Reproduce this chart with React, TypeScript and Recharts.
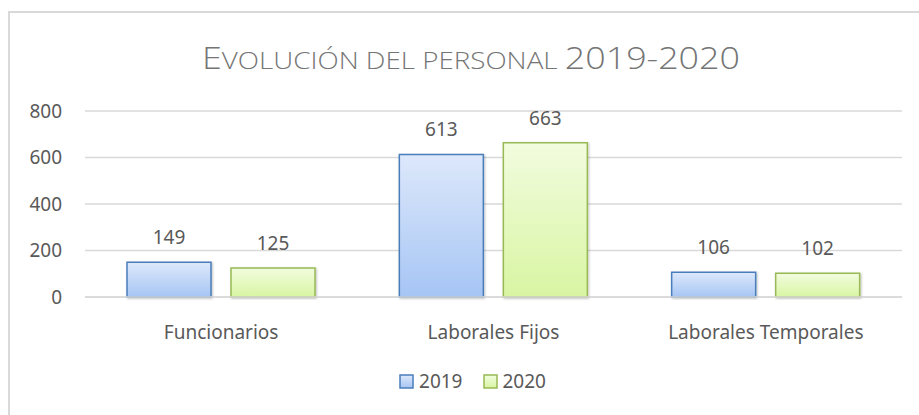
import { BarChart, Bar, XAxis, YAxis, CartesianGrid, Legend, LabelList } from "recharts";

const categories = ["Funcionarios", "Laborales Fijos", "Laborales Temporales"];
const values2019 = [149, 613, 106];
const values2020 = [125, 663, 102];
const yTicks = [0, 200, 400, 600, 800];

const data = categories.map((name, i) => ({ name, y2019: values2019[i], y2020: values2020[i] }));

const FONT = "'Noto Sans', 'Open Sans', sans-serif";
const TEXT = "#595959";

const legendItems = [
    { label: "2019", fill: "url(#gBlue)", stroke: "#4a7ebb" },
    { label: "2020", fill: "url(#gGreen)", stroke: "#98b954" },
];

function LegendContent() {
    return (
        <div style={{ display: "flex", justifyContent: "center", gap: 20, fontFamily: FONT, fontSize: 19, color: TEXT, height: 24, lineHeight: "24px" }}>
            {legendItems.map((it) => (
                <div key={it.label} style={{ display: "flex", alignItems: "center", gap: 5 }}>
                    <svg width={15} height={15}>
                        <rect x={1} y={1} width={13} height={13} fill={it.fill} stroke={it.stroke} strokeWidth={1.5} />
                    </svg>
                    <span>{it.label}</span>
                </div>
            ))}
        </div>
    );
}

export default function App() {
    return (
        <div style={{ position: "absolute", left: 0, top: 0, width: 919, height: 415, background: "#fff", overflow: "hidden" }}>
            <div style={{ position: "absolute", left: 8, top: 11, width: 930, height: 430, border: "2px solid #d9d9d9" }} />
            <svg style={{ position: "absolute", left: 0, top: 0 }} width={919} height={100}>
                <text x={471} y={69} textAnchor="middle" fill="#757575" fontFamily="'Open Sans', 'Noto Sans', sans-serif"
                    fontWeight={300} textLength={538} lengthAdjust="spacingAndGlyphs">
                    <tspan fontSize={31}>E</tspan>
                    <tspan fontSize={24}>VOLUCIÓN DEL PERSONAL </tspan>
                    <tspan fontSize={31}>2019-2020</tspan>
                </text>
            </svg>
            <div style={{ position: "absolute", left: 0, top: 0 }}>
                <BarChart width={919} height={415} data={data}
                    margin={{ top: 111, right: 17, left: 0, bottom: 64 }}
                    barCategoryGap={42} barGap={20}>
                    <defs>
                        <linearGradient id="gBlue" x1="0" y1="0" x2="0" y2="1">
                            <stop offset="0%" stopColor="#dde8fb" />
                            <stop offset="100%" stopColor="#a6c5f4" />
                        </linearGradient>
                        <linearGradient id="gGreen" x1="0" y1="0" x2="0" y2="1">
                            <stop offset="0%" stopColor="#f2fcdf" />
                            <stop offset="100%" stopColor="#d8f5a2" />
                        </linearGradient>
                        <filter id="shadow" x="-10%" y="-10%" width="120%" height="120%">
                            <feDropShadow dx="1" dy="1" stdDeviation="1.2" floodColor="#000" floodOpacity="0.25" />
                        </filter>
                    </defs>
                    <CartesianGrid vertical={false} stroke="#d9d9d9" strokeWidth={1.5} />
                    <XAxis dataKey="name" axisLine={{ stroke: "#d9d9d9", strokeWidth: 1.5 }} tickLine={false} tickMargin={23}
                        height={30} tick={{ fill: TEXT, fontSize: 19, fontFamily: FONT }} />
                    <YAxis domain={[0, 800]} ticks={yTicks} axisLine={false} tickLine={false} width={85} tickMargin={17}
                        tick={{ fill: TEXT, fontSize: 19, fontFamily: FONT }} />
                    <Legend content={<LegendContent />} wrapperStyle={{ position: "absolute", top: 369, left: 13, width: 919, height: 24 }} />
                    <Bar dataKey="y2019" name="2019" fill="url(#gBlue)" stroke="#4a7ebb" strokeWidth={1.5}
                        filter="url(#shadow)" isAnimationActive={false}>
                        <LabelList dataKey="y2019" position="top" offset={18} fill={TEXT} fontSize={19} fontFamily={FONT} />
                    </Bar>
                    <Bar dataKey="y2020" name="2020" fill="url(#gGreen)" stroke="#98b954" strokeWidth={1.5}
                        filter="url(#shadow)" isAnimationActive={false}>
                        <LabelList dataKey="y2020" position="top" offset={18} fill={TEXT} fontSize={19} fontFamily={FONT} />
                    </Bar>
                </BarChart>
            </div>
        </div>
    );
}
